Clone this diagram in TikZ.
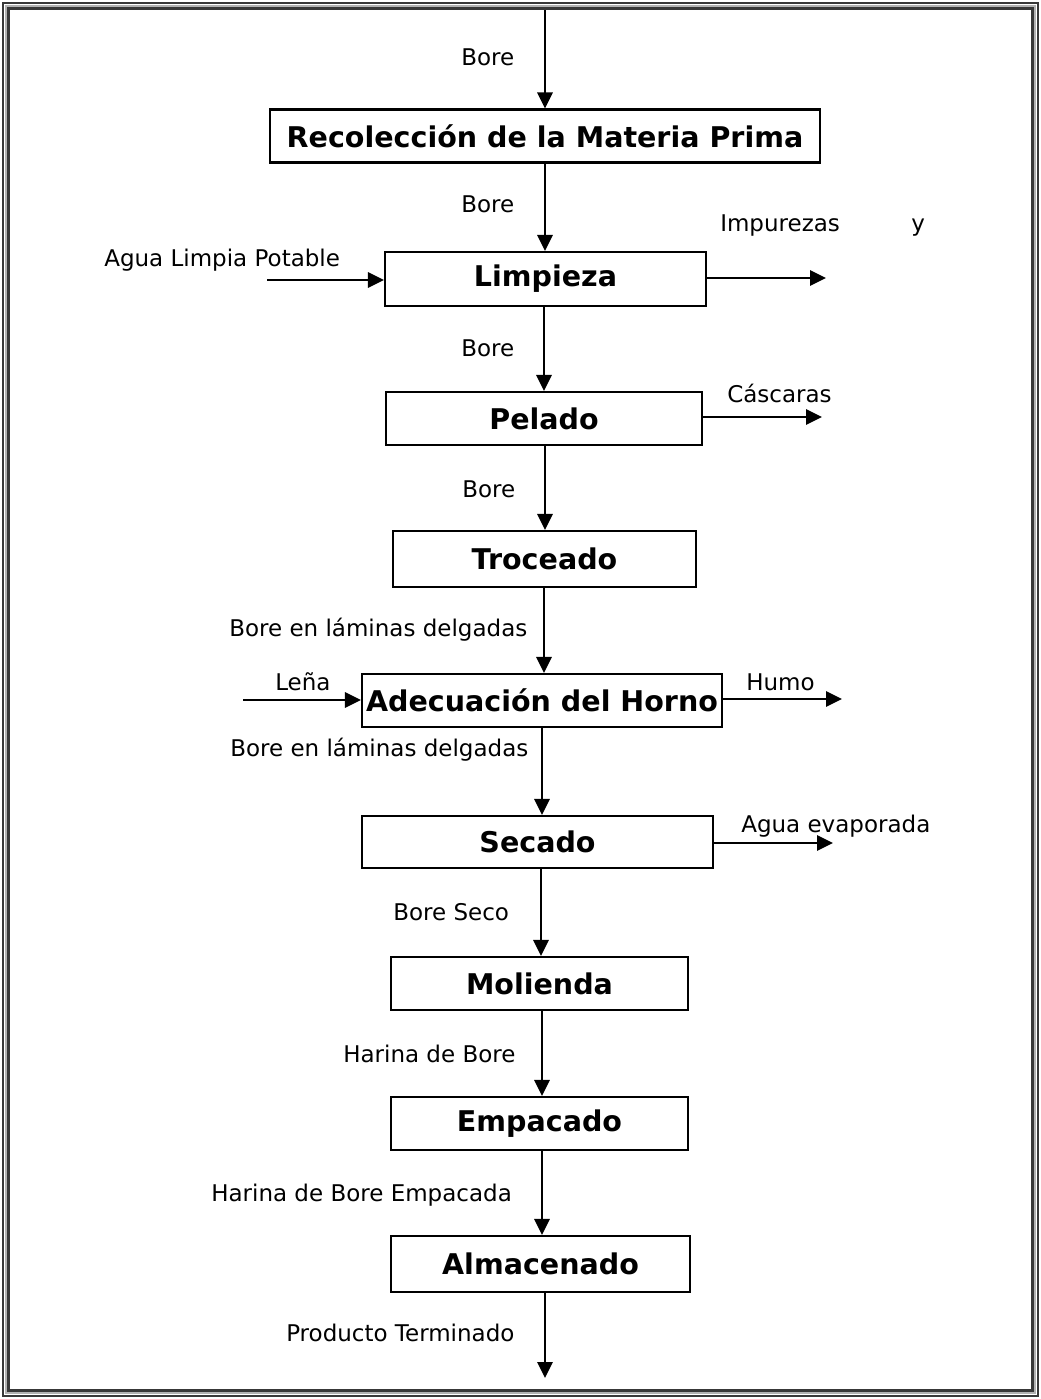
\documentclass[tikz,border=0pt]{standalone}
\usepackage{fontspec}
\setmainfont{DejaVu Sans}
\usetikzlibrary{arrows.meta}
\begin{document}
\begin{tikzpicture}[x=0.75pt,y=-0.75pt,
  proc/.style={draw=black,line width=1.6pt,inner sep=0pt,
    font=\fontsize{21.4pt}{25pt}\selectfont\bfseries},
  lbl/.style={inner sep=0pt,anchor=base west,
    font=\fontsize{17.25pt}{20pt}\selectfont},
  flow/.style={line width=1.4pt,-{Triangle[length=12pt,width=11.5pt]}},
  frame/.style={draw=black!78},
]
\useasboundingbox (0,0) rectangle (1041,1399);

% double page frame
\draw[frame,line width=1.8pt] (3,3) rectangle (1038,1396);
\draw[draw=black!30,line width=1.5pt] (5.7,5.7) rectangle (1035.3,1393.3);
\draw[frame,line width=2pt] (8.5,8.5) rectangle (1032.5,1390.5);

% process steps
\node[proc,minimum width=412.5pt,minimum height=39.75pt] (rec) at (545,136) {Recolección de la Materia Prima};
\node[proc,minimum width=240.75pt,minimum height=40.5pt] (lim) at (545.5,279) {Limpieza};
\node[proc,minimum width=237pt,minimum height=39.75pt] (pel) at (544,418.5) {Pelado};
\node[proc,minimum width=227.25pt,minimum height=42pt] (tro) at (544.5,559) {Troceado};
\node[proc,minimum width=270pt,minimum height=39.75pt] (ade) at (542,700.5) {Adecuación del Horno};
\node[proc,minimum width=263.25pt,minimum height=39pt] (sec) at (537.5,842) {Secado};
\node[proc,minimum width=222.75pt,minimum height=39.75pt] (mol) at (539.5,983.5) {Molienda};
\node[proc,minimum width=222.75pt,minimum height=39.75pt] (emp) at (539.5,1123.5) {Empacado};
\node[proc,minimum width=224.25pt,minimum height=42pt] (alm) at (540.5,1264) {Almacenado};

% free ends of the flows
\coordinate (in0) at (545,10);
\coordinate (out0) at (545,1378);
\coordinate (inAgua) at (267,280);
\coordinate (outImp) at (826,278);
\coordinate (outCas) at (822,417);
\coordinate (inLena) at (243,700);
\coordinate (outHumo) at (842,699);
\coordinate (outAgua) at (833,843);

% main flow
\draw[flow] (in0) -- (545,0 |- rec.north);
\draw[flow] (545,0 |- rec.south) -- (545,0 |- lim.north);
\draw[flow] (544,0 |- lim.south) -- (544,0 |- pel.north);
\draw[flow] (545,0 |- pel.south) -- (545,0 |- tro.north);
\draw[flow] (544,0 |- tro.south) -- (544,0 |- ade.north);
\draw[flow] (542,0 |- ade.south) -- (542,0 |- sec.north);
\draw[flow] (541,0 |- sec.south) -- (541,0 |- mol.north);
\draw[flow] (542,0 |- mol.south) -- (542,0 |- emp.north);
\draw[flow] (542,0 |- emp.south) -- (542,0 |- alm.north);
\draw[flow] (545,0 |- alm.south) -- (out0);

% side inputs and outputs
\draw[flow] (inAgua) -- (lim.west |- inAgua);
\draw[flow] (lim.east |- outImp) -- (outImp);
\draw[flow] (pel.east |- outCas) -- (outCas);
\draw[flow] (inLena) -- (ade.west |- inLena);
\draw[flow] (ade.east |- outHumo) -- (outHumo);
\draw[flow] (sec.east |- outAgua) -- (outAgua);

% stream labels
\node[lbl] (l1) at (461,65) {Bore};
\node[lbl] (l2) at (461,212) {Bore};
\node[lbl] (l3) at (461,356) {Bore};
\node[lbl] (l4) at (462,497) {Bore};
\node[lbl] (l5) at (229,636) {Bore en láminas delgadas};
\node[lbl] (l6) at (230,756) {Bore en láminas delgadas};
\node[lbl] (l7) at (393,920) {Bore Seco};
\node[lbl] (l8) at (343,1062) {Harina de Bore};
\node[lbl] (l9) at (211,1201) {Harina de Bore Empacada};
\node[lbl] (l10) at (286,1341) {Producto Terminado};
\node[lbl] (lAgua) at (104,266) {Agua Limpia Potable};
\node[lbl] (lImp) at (720,231) {Impurezas};
\node[lbl] (lY) at (911,231) {y};
\node[lbl] (lCas) at (727,402) {Cáscaras};
\node[lbl] (lLena) at (275,690) {Leña};
\node[lbl] (lHumo) at (746,690) {Humo};
\node[lbl] (lEvap) at (741,832) {Agua evaporada};
\end{tikzpicture}
\end{document}
